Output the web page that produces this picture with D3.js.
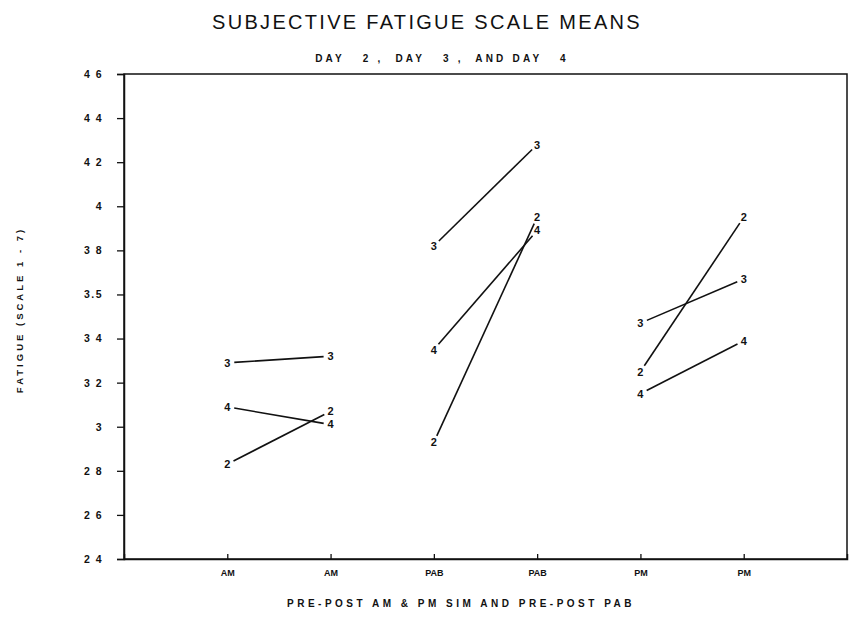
<!DOCTYPE html>
<html>
<head>
<meta charset="utf-8">
<script src="https://cdn.jsdelivr.net/npm/d3@7"></script>
<style>
  body { margin: 0; background: #fff; }
  text { font-family: "Liberation Sans", Arial, sans-serif; fill: #111; }
</style>
</head>
<body>
<svg id="chart" width="851" height="625"></svg>
<script>
// x positions along the axis (pre/post pairs)
const categories = ['AM', 'AM', 'PAB', 'PAB', 'PM', 'PM'];
// one line series per day, symbol drawn is the day number
const days = ['2', '3', '4'];
const day2 = [2.83, 3.07, 2.93, 3.95, 3.25, 3.95];
const day3 = [3.29, 3.32, 3.82, 4.28, 3.47, 3.67];
const day4 = [3.09, 3.01, 3.35, 3.89, 3.15, 3.39];
const yTicks = [2.4, 2.6, 2.8, 3.0, 3.2, 3.4, 3.6, 3.8, 4.0, 4.2, 4.4, 4.6];
const yTickLabels = ['2 4', '2 6', '2 8', '3', '3 2', '3 4', '3.5', '3 8', '4', '4 2', '4 4', '4 6'];
// pre -> post pairs that are joined by a line
const pairs = [[0, 1], [2, 3], [4, 5]];

const svg = d3.select('#chart');

const x = d3.scaleLinear().domain([0, 7]).range([124, 847]);
const y = d3.scaleLinear().domain([2.4, 4.6]).range([559, 74]);

// frame
svg.append('rect')
  .attr('x', x(0)).attr('y', y(4.6))
  .attr('width', x(7) - x(0)).attr('height', y(2.4) - y(4.6))
  .attr('fill', 'none').attr('stroke', '#111').attr('stroke-width', 1.5);

// y axis
const yAxis = d3.axisLeft(y)
  .tickValues(yTicks)
  .tickSize(7)
  .tickPadding(14)
  .tickFormat((d, i) => yTickLabels[i]);
const gy = svg.append('g').attr('transform', `translate(${x(0)},0)`).call(yAxis);
gy.select('.domain').attr('stroke', '#111').attr('stroke-width', 1.5);
gy.selectAll('.tick line').attr('stroke', '#111').attr('stroke-width', 1.3);
gy.selectAll('.tick text')
  .style('font-size', '10.5px').style('font-weight', 'bold')
  .style('white-space', 'pre')
  .style('letter-spacing', '1.5px').attr('fill', '#111');

// x axis
const xAxis = d3.axisBottom(x)
  .tickValues(d3.range(1, categories.length + 1))
  .tickSize(-5)
  .tickPadding(11)
  .tickFormat((d, i) => categories[i]);
const gx = svg.append('g').attr('transform', `translate(0,${y(2.4)})`).call(xAxis);
gx.select('.domain').attr('stroke', '#111').attr('stroke-width', 1.5);
gx.selectAll('.tick line').attr('stroke', '#111').attr('stroke-width', 1.3);
gx.selectAll('.tick text')
  .style('font-size', '9px').style('font-weight', 'bold').attr('fill', '#111');

// the day lines, shortened at both ends so the symbols sit clear of them
const seriesData = [day2, day3, day4];
const GAP = 7;
days.forEach((day, k) => {
  const vals = seriesData[k];
  pairs.forEach(([a, b]) => {
    const x1 = x(a + 1), y1 = y(vals[a]);
    const x2 = x(b + 1), y2 = y(vals[b]);
    const len = Math.hypot(x2 - x1, y2 - y1);
    const ux = (x2 - x1) / len, uy = (y2 - y1) / len;
    svg.append('line')
      .attr('x1', x1 + ux * GAP).attr('y1', y1 + uy * GAP)
      .attr('x2', x2 - ux * GAP).attr('y2', y2 - uy * GAP)
      .attr('stroke', '#111').attr('stroke-width', 1.6);
  });
  svg.selectAll(`.sym${day}`)
    .data(vals)
    .enter()
    .append('text')
    .attr('class', `sym${day}`)
    .attr('x', (d, i) => x(i + 1))
    .attr('y', d => y(d))
    .attr('dy', '0.36em')
    .attr('text-anchor', 'middle')
    .style('font-size', '11px')
    .style('font-weight', 'bold')
    .text(day);
});

// titles
svg.append('text')
  .attr('x', 427).attr('y', 29)
  .attr('text-anchor', 'middle')
  .style('font-size', '20px').style('letter-spacing', '2.3px')
  .text('SUBJECTIVE FATIGUE SCALE MEANS');

svg.append('text')
  .attr('x', 442).attr('y', 62)
  .attr('text-anchor', 'middle')
  .style('font-size', '10px').style('font-weight', 'bold')
  .style('white-space', 'pre').style('letter-spacing', '3.2px')
  .text('DAY   2 ,  DAY   3 ,  AND DAY   4');

svg.append('text')
  .attr('x', 461).attr('y', 607)
  .attr('text-anchor', 'middle')
  .style('font-size', '10px').style('font-weight', 'bold')
  .style('letter-spacing', '3.5px')
  .text('PRE-POST AM & PM SIM AND PRE-POST PAB');

svg.append('text')
  .attr('transform', 'translate(23,310) rotate(-90)')
  .attr('text-anchor', 'middle')
  .style('font-size', '9.5px').style('font-weight', 'bold')
  .style('white-space', 'pre').style('letter-spacing', '3px')
  .text('FATIGUE (SCALE 1 - 7)');
</script>
</body>
</html>
